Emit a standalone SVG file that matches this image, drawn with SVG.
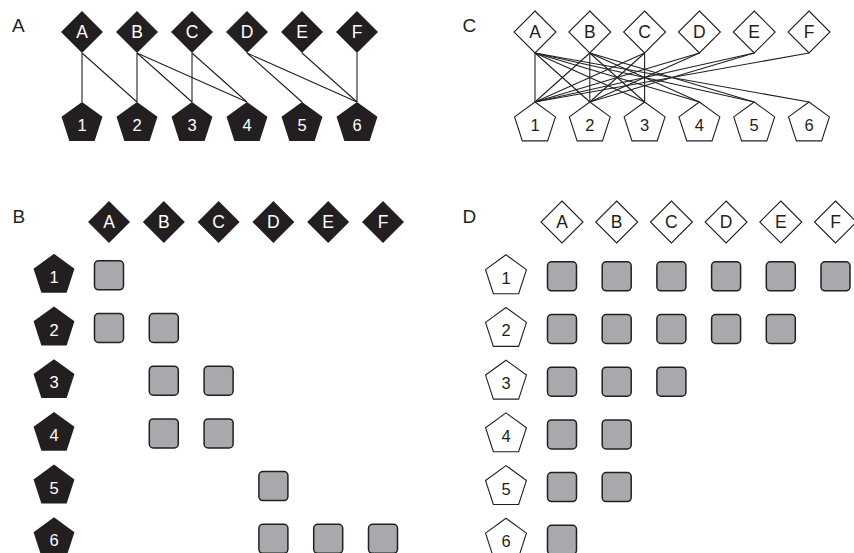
<svg xmlns="http://www.w3.org/2000/svg" xmlns:xlink="http://www.w3.org/1999/xlink" width="854" height="553" viewBox="0 0 854 553">
<style>
.panel{font-family:"Liberation Sans",Arial,sans-serif;font-size:19px;fill:#231f20}
.lbl{font-family:"Liberation Sans",Arial,sans-serif;font-size:17.5px;text-anchor:middle}
.num{font-size:16.5px}
.w{fill:#ffffff}
.k{fill:#231f20}
.solid{fill:#231f20;stroke:none}
.open{fill:#ffffff;stroke:#231f20;stroke-width:1.1}
.cell{fill:#a7a9ac;stroke:#231f20;stroke-width:1.5}
.edge{stroke:#231f20;stroke-width:1.1;fill:none}
</style>
<defs>
<path id="dia" d="M0,-21 L21,0 L0,21 L-21,0 Z"/>
<path id="pent" d="M0,-21.5 L20.45,-6.64 L12.64,17.39 L-12.64,17.39 L-20.45,-6.64 Z"/>
<rect id="sq" x="-14.5" y="-14.5" width="29" height="29" rx="4"/>
</defs>
<rect width="854" height="553" fill="#ffffff"/>
<text class="panel" x="12" y="32">A</text>
<text class="panel" x="462.5" y="32">C</text>
<text class="panel" x="12.5" y="223">B</text>
<text class="panel" x="462.5" y="223">D</text>

<g id="connectors">
<g id="edges-A">
<line class="edge" x1="82" y1="53" x2="82" y2="102"/>
<line class="edge" x1="82" y1="53" x2="137" y2="102"/>
<line class="edge" x1="137" y1="53" x2="137" y2="102"/>
<line class="edge" x1="137" y1="53" x2="192" y2="102"/>
<line class="edge" x1="137" y1="53" x2="247" y2="102"/>
<line class="edge" x1="192" y1="53" x2="192" y2="102"/>
<line class="edge" x1="192" y1="53" x2="247" y2="102"/>
<line class="edge" x1="247" y1="53" x2="302" y2="102"/>
<line class="edge" x1="247" y1="53" x2="357" y2="102"/>
<line class="edge" x1="302" y1="53" x2="357" y2="102"/>
<line class="edge" x1="357" y1="53" x2="357" y2="102"/>
</g>
<g id="edges-C">
<line class="edge" x1="535" y1="53" x2="535" y2="102"/>
<line class="edge" x1="535" y1="53" x2="589.8" y2="102"/>
<line class="edge" x1="535" y1="53" x2="644.6" y2="102"/>
<line class="edge" x1="535" y1="53" x2="699.4" y2="102"/>
<line class="edge" x1="535" y1="53" x2="754.2" y2="102"/>
<line class="edge" x1="535" y1="53" x2="809" y2="102"/>
<line class="edge" x1="589.8" y1="53" x2="535" y2="102"/>
<line class="edge" x1="589.8" y1="53" x2="589.8" y2="102"/>
<line class="edge" x1="589.8" y1="53" x2="644.6" y2="102"/>
<line class="edge" x1="589.8" y1="53" x2="699.4" y2="102"/>
<line class="edge" x1="589.8" y1="53" x2="754.2" y2="102"/>
<line class="edge" x1="644.6" y1="53" x2="535" y2="102"/>
<line class="edge" x1="644.6" y1="53" x2="589.8" y2="102"/>
<line class="edge" x1="644.6" y1="53" x2="644.6" y2="102"/>
<line class="edge" x1="699.4" y1="53" x2="535" y2="102"/>
<line class="edge" x1="699.4" y1="53" x2="589.8" y2="102"/>
<line class="edge" x1="754.2" y1="53" x2="535" y2="102"/>
<line class="edge" x1="754.2" y1="53" x2="589.8" y2="102"/>
<line class="edge" x1="809" y1="53" x2="535" y2="102"/>
</g>
</g>

<!-- Panel A nodes -->
<g id="A-dA"><use href="#dia" class="solid" x="82" y="32"/><text class="lbl w" x="82" y="38.2">A</text></g>
<g id="A-dB"><use href="#dia" class="solid" x="137" y="32"/><text class="lbl w" x="137" y="38.2">B</text></g>
<g id="A-dC"><use href="#dia" class="solid" x="192" y="32"/><text class="lbl w" x="192" y="38.2">C</text></g>
<g id="A-dD"><use href="#dia" class="solid" x="247" y="32"/><text class="lbl w" x="247" y="38.2">D</text></g>
<g id="A-dE"><use href="#dia" class="solid" x="302" y="32"/><text class="lbl w" x="302" y="38.2">E</text></g>
<g id="A-dF"><use href="#dia" class="solid" x="357" y="32"/><text class="lbl w" x="357" y="38.2">F</text></g>
<g id="A-p1"><use href="#pent" class="solid" x="82" y="123.5"/><text class="lbl num w" x="82" y="131">1</text></g>
<g id="A-p2"><use href="#pent" class="solid" x="137" y="123.5"/><text class="lbl num w" x="137" y="131">2</text></g>
<g id="A-p3"><use href="#pent" class="solid" x="192" y="123.5"/><text class="lbl num w" x="192" y="131">3</text></g>
<g id="A-p4"><use href="#pent" class="solid" x="247" y="123.5"/><text class="lbl num w" x="247" y="131">4</text></g>
<g id="A-p5"><use href="#pent" class="solid" x="302" y="123.5"/><text class="lbl num w" x="302" y="131">5</text></g>
<g id="A-p6"><use href="#pent" class="solid" x="357" y="123.5"/><text class="lbl num w" x="357" y="131">6</text></g>

<!-- Panel C nodes -->
<g id="C-dA"><use href="#dia" class="open" x="535" y="32"/><text class="lbl k" x="535" y="38.2">A</text></g>
<g id="C-dB"><use href="#dia" class="open" x="589.8" y="32"/><text class="lbl k" x="589.8" y="38.2">B</text></g>
<g id="C-dC"><use href="#dia" class="open" x="644.6" y="32"/><text class="lbl k" x="644.6" y="38.2">C</text></g>
<g id="C-dD"><use href="#dia" class="open" x="699.4" y="32"/><text class="lbl k" x="699.4" y="38.2">D</text></g>
<g id="C-dE"><use href="#dia" class="open" x="754.2" y="32"/><text class="lbl k" x="754.2" y="38.2">E</text></g>
<g id="C-dF"><use href="#dia" class="open" x="809" y="32"/><text class="lbl k" x="809" y="38.2">F</text></g>
<g id="C-p1"><use href="#pent" class="open" x="535" y="123.5"/><text class="lbl num k" x="535" y="131">1</text></g>
<g id="C-p2"><use href="#pent" class="open" x="589.8" y="123.5"/><text class="lbl num k" x="589.8" y="131">2</text></g>
<g id="C-p3"><use href="#pent" class="open" x="644.6" y="123.5"/><text class="lbl num k" x="644.6" y="131">3</text></g>
<g id="C-p4"><use href="#pent" class="open" x="699.4" y="123.5"/><text class="lbl num k" x="699.4" y="131">4</text></g>
<g id="C-p5"><use href="#pent" class="open" x="754.2" y="123.5"/><text class="lbl num k" x="754.2" y="131">5</text></g>
<g id="C-p6"><use href="#pent" class="open" x="809" y="123.5"/><text class="lbl num k" x="809" y="131">6</text></g>

<!-- Panel B nodes -->
<g id="B-dA"><use href="#dia" class="solid" x="109" y="222"/><text class="lbl w" x="109" y="228.2">A</text></g>
<g id="B-dB"><use href="#dia" class="solid" x="163.8" y="222"/><text class="lbl w" x="163.8" y="228.2">B</text></g>
<g id="B-dC"><use href="#dia" class="solid" x="218.6" y="222"/><text class="lbl w" x="218.6" y="228.2">C</text></g>
<g id="B-dD"><use href="#dia" class="solid" x="273.4" y="222"/><text class="lbl w" x="273.4" y="228.2">D</text></g>
<g id="B-dE"><use href="#dia" class="solid" x="328.2" y="222"/><text class="lbl w" x="328.2" y="228.2">E</text></g>
<g id="B-dF"><use href="#dia" class="solid" x="383" y="222"/><text class="lbl w" x="383" y="228.2">F</text></g>
<g id="B-p1"><use href="#pent" class="solid" x="54" y="275.3"/><text class="lbl num w" x="54" y="282.8">1</text></g>
<g id="B-p2"><use href="#pent" class="solid" x="54" y="328"/><text class="lbl num w" x="54" y="335.5">2</text></g>
<g id="B-p3"><use href="#pent" class="solid" x="54" y="380.7"/><text class="lbl num w" x="54" y="388.2">3</text></g>
<g id="B-p4"><use href="#pent" class="solid" x="54" y="433.4"/><text class="lbl num w" x="54" y="440.9">4</text></g>
<g id="B-p5"><use href="#pent" class="solid" x="54" y="486.1"/><text class="lbl num w" x="54" y="493.6">5</text></g>
<g id="B-p6"><use href="#pent" class="solid" x="54" y="538.8"/><text class="lbl num w" x="54" y="546.3">6</text></g>
<g id="B-cells">
<use href="#sq" class="cell" x="109" y="275.3"/>
<use href="#sq" class="cell" x="109" y="328"/>
<use href="#sq" class="cell" x="163.8" y="328"/>
<use href="#sq" class="cell" x="163.8" y="380.7"/>
<use href="#sq" class="cell" x="218.6" y="380.7"/>
<use href="#sq" class="cell" x="163.8" y="433.4"/>
<use href="#sq" class="cell" x="218.6" y="433.4"/>
<use href="#sq" class="cell" x="273.4" y="486.1"/>
<use href="#sq" class="cell" x="273.4" y="538.8"/>
<use href="#sq" class="cell" x="328.2" y="538.8"/>
<use href="#sq" class="cell" x="383" y="538.8"/>
</g>

<!-- Panel D nodes -->
<g id="D-dA"><use href="#dia" class="open" x="562" y="222"/><text class="lbl k" x="562" y="228.2">A</text></g>
<g id="D-dB"><use href="#dia" class="open" x="616.7" y="222"/><text class="lbl k" x="616.7" y="228.2">B</text></g>
<g id="D-dC"><use href="#dia" class="open" x="671.4" y="222"/><text class="lbl k" x="671.4" y="228.2">C</text></g>
<g id="D-dD"><use href="#dia" class="open" x="726.1" y="222"/><text class="lbl k" x="726.1" y="228.2">D</text></g>
<g id="D-dE"><use href="#dia" class="open" x="780.8" y="222"/><text class="lbl k" x="780.8" y="228.2">E</text></g>
<g id="D-dF"><use href="#dia" class="open" x="835.5" y="222"/><text class="lbl k" x="835.5" y="228.2">F</text></g>
<g id="D-p1"><use href="#pent" class="open" x="506" y="276.3"/><text class="lbl num k" x="506" y="283.7">1</text></g>
<g id="D-p2"><use href="#pent" class="open" x="506" y="329"/><text class="lbl num k" x="506" y="336.4">2</text></g>
<g id="D-p3"><use href="#pent" class="open" x="506" y="381.7"/><text class="lbl num k" x="506" y="389.1">3</text></g>
<g id="D-p4"><use href="#pent" class="open" x="506" y="434.4"/><text class="lbl num k" x="506" y="441.8">4</text></g>
<g id="D-p5"><use href="#pent" class="open" x="506" y="487.1"/><text class="lbl num k" x="506" y="494.5">5</text></g>
<g id="D-p6"><use href="#pent" class="open" x="506" y="539.8"/><text class="lbl num k" x="506" y="547.2">6</text></g>
<g id="D-cells">
<use href="#sq" class="cell" x="562" y="276.3"/>
<use href="#sq" class="cell" x="616.7" y="276.3"/>
<use href="#sq" class="cell" x="671.4" y="276.3"/>
<use href="#sq" class="cell" x="726.1" y="276.3"/>
<use href="#sq" class="cell" x="780.8" y="276.3"/>
<use href="#sq" class="cell" x="835.5" y="276.3"/>
<use href="#sq" class="cell" x="562" y="329"/>
<use href="#sq" class="cell" x="616.7" y="329"/>
<use href="#sq" class="cell" x="671.4" y="329"/>
<use href="#sq" class="cell" x="726.1" y="329"/>
<use href="#sq" class="cell" x="780.8" y="329"/>
<use href="#sq" class="cell" x="562" y="381.7"/>
<use href="#sq" class="cell" x="616.7" y="381.7"/>
<use href="#sq" class="cell" x="671.4" y="381.7"/>
<use href="#sq" class="cell" x="562" y="434.4"/>
<use href="#sq" class="cell" x="616.7" y="434.4"/>
<use href="#sq" class="cell" x="562" y="487.1"/>
<use href="#sq" class="cell" x="616.7" y="487.1"/>
<use href="#sq" class="cell" x="562" y="539.8"/>
</g>
</svg>
